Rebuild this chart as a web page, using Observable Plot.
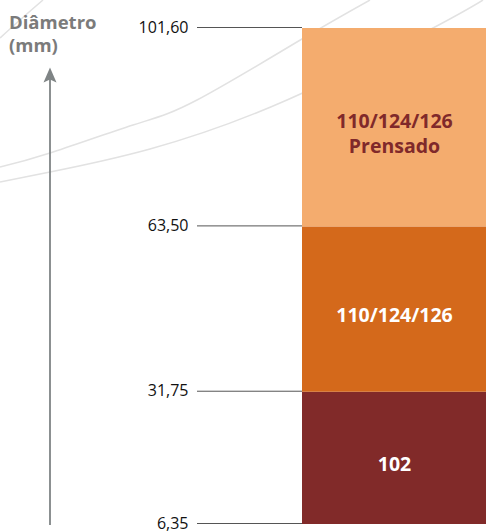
<!DOCTYPE html>
<html>
<head>
<meta charset="utf-8">
<script src="https://cdn.jsdelivr.net/npm/d3@7"></script>
<script src="https://cdn.jsdelivr.net/npm/@observablehq/plot@0.6"></script>
<style>
  html, body { margin: 0; padding: 0; background: #fff; }
  #wrap { position: relative; width: 486px; height: 531px; font-family: "Open Sans", sans-serif; }
  #title { position: absolute; left: 9px; top: 10px; font-weight: 700; font-size: 18.5px; line-height: 23px; color: #7b7b7b; }
  g[aria-label="y-axis tick label"] { fill: #111; }
</style>
</head>
<body>
<div id="wrap"><div id="title">Diâmetro<br>(mm)</div></div>
<script>
// ---- data ----
const segLabels = ["102", "110/124/126", "110/124/126\nPrensado"];
const segLow = [6.35, 31.75, 63.50];
const segHigh = [31.75, 63.50, 101.60];
const tickValues = [6.35, 31.75, 63.50, 101.60];
const tickLabels = ["6,35", "31,75", "63,50", "101,60"];
const axisTop = 94; // arrow tip value on the diameter axis

// ---- styles ----
const segFill = ["#812a29", "#d4691b", "#f4ac6e"];
const segText = ["#ffffff", "#ffffff", "#80292a"];

const segments = segLabels.map((label, i) => ({
  cat: "d", label, lo: segLow[i], hi: segHigh[i], mid: (segLow[i] + segHigh[i]) / 2,
  fill: segFill[i], text: segText[i]
}));

const chart = Plot.plot({
  width: 486,
  height: 531,
  marginLeft: 302,
  marginRight: 0,
  marginTop: 28,
  marginBottom: 7,
  style: { fontFamily: "'Open Sans', sans-serif", background: "transparent", overflow: "visible" },
  x: { type: "band", domain: ["d"], padding: 0, axis: null },
  y: { domain: [6.35, 101.6], nice: false },
  marks: [
    Plot.barY(segments, { x: "cat", y1: "lo", y2: "hi", fill: "fill", inset: 0 }),
    Plot.axisY({
      ticks: tickValues,
      tickFormat: (d) => tickLabels[tickValues.indexOf(d)],
      tickSize: 105,
      tickPadding: 9,
      fontSize: 16,
      stroke: "#555",
      strokeWidth: 1,
      dy: -1,
      label: null
    }),
    Plot.text(segments, {
      x: "cat", y: "mid", text: "label", fill: "text",
      fontSize: 19.5, fontWeight: 700, lineHeight: 1.25, dy: 5
    })
  ]
});

document.getElementById("wrap").appendChild(chart);

// decorative background arcs and axis arrow
const svg = d3.select(chart);
const decor = svg.insert("g", ":first-child");
const decorArcs = [
  [[0, 38], [20, 20], [43, 0]],
  [[0, 167], [50, 153], [133, 125], [197, 100], [302, 39], [370, 0]],
  [[0, 182], [50, 172], [150, 149], [287, 100], [433, 28], [483, 0]]
];
const line = d3.line().curve(d3.curveNatural);
decorArcs.forEach(pts => {
  decor.append("path").attr("d", line(pts)).attr("fill", "none")
    .attr("stroke", "#e2e2e2").attr("stroke-width", 1.5);
});

const yScale = chart.scale("y");
const yb = yScale.apply(6.35) + 1;
const yt = yScale.apply(axisTop);
const ax = 50;
decor.append("line").attr("x1", ax).attr("x2", ax).attr("y1", yb).attr("y2", yt + 10)
  .attr("stroke", "#7f8485").attr("stroke-width", 1.8);
decor.append("path")
  .attr("d", `M${ax},${yt} L${ax - 6.5},${yt + 15} L${ax},${yt + 12} L${ax + 6.5},${yt + 15} Z`)
  .attr("fill", "#7f8485");
</script>
</body>
</html>
